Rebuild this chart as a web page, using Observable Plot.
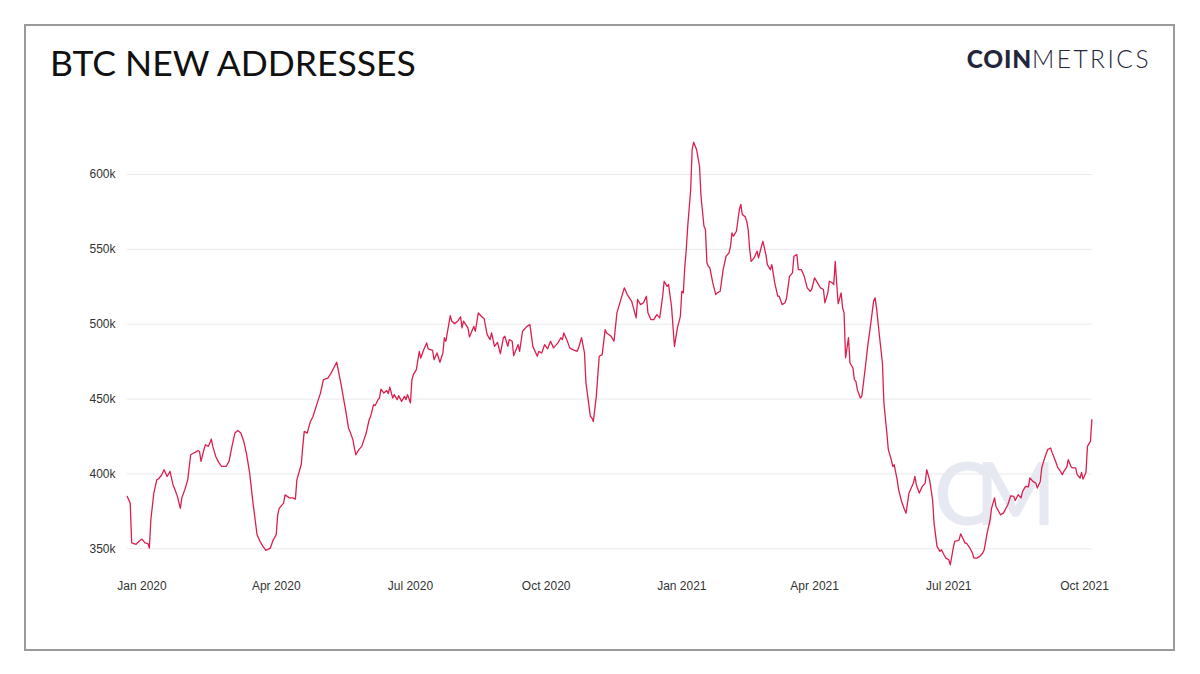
<!DOCTYPE html>
<html>
<head>
<meta charset="utf-8">
<script src="https://cdn.jsdelivr.net/npm/d3@7"></script>
<script src="https://cdn.jsdelivr.net/npm/@observablehq/plot@0.6"></script>
<style>
  body { margin: 0; background: #fff; }
  #wrap { position: relative; width: 1200px; height: 674px; background: #fff; overflow: hidden; }
  .frame { position: absolute; left: 24px; top: 24px; width: 1147px; height: 623px; border: 2px solid #9a9a9a; }
  .title { position: absolute; left: 50px; top: 43px; font-family: Lato, sans-serif; font-size: 35.5px; line-height: 40px; color: #111; white-space: nowrap; }
  .logo { position: absolute; right: 49px; top: 44px; font-family: Lato, sans-serif; font-size: 24.5px; line-height: 30px; color: #23263a; white-space: nowrap; }
  .logo b { font-weight: 900; letter-spacing: 0.8px; }
  .logo span { font-weight: 300; letter-spacing: 2.5px; }
  .wm { position: absolute; left: 934px; top: 440px; font-family: Lato, sans-serif; font-weight: 600; font-size: 86px; line-height: 104px; color: #e6e9f1; letter-spacing: -16px; white-space: nowrap; }
  #chart { position: absolute; left: 0; top: 0; }
</style>
</head>
<body>
<div id="wrap">
  <div class="frame"></div>
  <div class="title">BTC NEW ADDRESSES</div>
  <div class="logo"><b>COIN</b><span>METRICS</span></div>
  <div class="wm">CM</div>
  <div id="chart"></div>
</div>
<script>
// BTC new addresses (thousands)
const dates = [
"2019-12-22","2019-12-24","2019-12-25","2019-12-28","2019-12-30","2020-01-01","2020-01-03","2020-01-05","2020-01-06","2020-01-07",
"2020-01-09","2020-01-11","2020-01-12","2020-01-14","2020-01-16","2020-01-18","2020-01-20","2020-01-22","2020-01-23","2020-01-25",
"2020-01-27","2020-01-28","2020-01-30","2020-02-01","2020-02-03","2020-02-05","2020-02-06","2020-02-08","2020-02-09","2020-02-10",
"2020-02-12","2020-02-13","2020-02-15","2020-02-16","2020-02-17","2020-02-18","2020-02-20","2020-02-22","2020-02-24","2020-02-27",
"2020-02-29","2020-03-02","2020-03-04","2020-03-06","2020-03-08","2020-03-10","2020-03-12","2020-03-14","2020-03-16","2020-03-19",
"2020-03-21","2020-03-23","2020-03-25","2020-03-28","2020-03-30","2020-04-01","2020-04-02","2020-04-03","2020-04-06","2020-04-07",
"2020-04-10","2020-04-12","2020-04-14","2020-04-15","2020-04-18","2020-04-19","2020-04-20","2020-04-22","2020-04-24","2020-04-26",
"2020-04-29","2020-05-01","2020-05-03","2020-05-06","2020-05-08","2020-05-10","2020-05-12","2020-05-13","2020-05-15","2020-05-16",
"2020-05-18","2020-05-20","2020-05-21","2020-05-23","2020-05-24","2020-05-25","2020-05-27","2020-05-29","2020-06-01","2020-06-03",
"2020-06-04","2020-06-06","2020-06-07","2020-06-09","2020-06-10","2020-06-11","2020-06-13","2020-06-15","2020-06-16","2020-06-17",
"2020-06-19","2020-06-20","2020-06-22","2020-06-23","2020-06-25","2020-06-27","2020-06-28","2020-06-29","2020-07-01","2020-07-02",
"2020-07-03","2020-07-05","2020-07-07","2020-07-08","2020-07-10","2020-07-12","2020-07-13","2020-07-16","2020-07-17","2020-07-19",
"2020-07-21","2020-07-23","2020-07-24","2020-07-25","2020-07-28","2020-07-29","2020-07-31","2020-08-02","2020-08-04","2020-08-05",
"2020-08-06","2020-08-09","2020-08-10","2020-08-13","2020-08-14","2020-08-16","2020-08-18","2020-08-20","2020-08-22","2020-08-24",
"2020-08-25","2020-08-27","2020-08-29","2020-08-31","2020-09-02","2020-09-03","2020-09-05","2020-09-06","2020-09-08","2020-09-09",
"2020-09-12","2020-09-13","2020-09-15","2020-09-18","2020-09-20","2020-09-22","2020-09-25","2020-09-26","2020-09-28","2020-09-30",
"2020-10-02","2020-10-04","2020-10-06","2020-10-09","2020-10-11","2020-10-12","2020-10-13","2020-10-15","2020-10-17","2020-10-19",
"2020-10-22","2020-10-23","2020-10-25","2020-10-27","2020-10-28","2020-10-31","2020-11-01","2020-11-02","2020-11-04","2020-11-06",
"2020-11-08","2020-11-10","2020-11-11","2020-11-14","2020-11-16","2020-11-18","2020-11-20","2020-11-23","2020-11-25","2020-11-28",
"2020-12-01","2020-12-02","2020-12-04","2020-12-06","2020-12-08","2020-12-09","2020-12-11","2020-12-13","2020-12-15","2020-12-17",
"2020-12-19","2020-12-20","2020-12-22","2020-12-23","2020-12-25","2020-12-27","2020-12-29","2020-12-31","2021-01-01","2021-01-02",
"2021-01-03","2021-01-04","2021-01-05","2021-01-07","2021-01-08","2021-01-09","2021-01-11","2021-01-13","2021-01-14","2021-01-16",
"2021-01-17","2021-01-18","2021-01-19","2021-01-20","2021-01-22","2021-01-24","2021-01-25","2021-01-27","2021-01-29","2021-01-31",
"2021-02-02","2021-02-03","2021-02-04","2021-02-05","2021-02-07","2021-02-09","2021-02-10","2021-02-11","2021-02-13","2021-02-14",
"2021-02-15","2021-02-16","2021-02-17","2021-02-19","2021-02-21","2021-02-22","2021-02-24","2021-02-25","2021-02-27","2021-02-28",
"2021-03-02","2021-03-03","2021-03-05","2021-03-07","2021-03-08","2021-03-10","2021-03-12","2021-03-13","2021-03-15","2021-03-17",
"2021-03-18","2021-03-20","2021-03-21","2021-03-23","2021-03-25","2021-03-27","2021-03-29","2021-03-30","2021-04-01","2021-04-03",
"2021-04-05","2021-04-07","2021-04-08","2021-04-10","2021-04-11","2021-04-13","2021-04-14","2021-04-15","2021-04-16","2021-04-17",
"2021-04-19","2021-04-20","2021-04-21","2021-04-22","2021-04-24","2021-04-25","2021-04-27","2021-04-28","2021-04-29","2021-04-30",
"2021-05-02","2021-05-03","2021-05-04","2021-05-06","2021-05-07","2021-05-09","2021-05-11","2021-05-12","2021-05-13","2021-05-15",
"2021-05-17","2021-05-18","2021-05-20","2021-05-21","2021-05-23","2021-05-24","2021-05-25","2021-05-27","2021-05-28","2021-05-30",
"2021-06-01","2021-06-02","2021-06-03","2021-06-04","2021-06-05","2021-06-07","2021-06-08","2021-06-09","2021-06-11","2021-06-13",
"2021-06-15","2021-06-16","2021-06-18","2021-06-20","2021-06-21","2021-06-23","2021-06-25","2021-06-26","2021-06-28","2021-06-29",
"2021-07-01","2021-07-02","2021-07-04","2021-07-05","2021-07-07","2021-07-08","2021-07-09","2021-07-11","2021-07-12","2021-07-13",
"2021-07-15","2021-07-17","2021-07-18","2021-07-20","2021-07-22","2021-07-24","2021-07-25","2021-07-27","2021-07-29","2021-07-30",
"2021-08-01","2021-08-02","2021-08-05","2021-08-07","2021-08-10","2021-08-12","2021-08-14","2021-08-15","2021-08-17","2021-08-19",
"2021-08-20","2021-08-22","2021-08-24","2021-08-25","2021-08-27","2021-08-29","2021-08-30","2021-09-01","2021-09-02","2021-09-04",
"2021-09-06","2021-09-08","2021-09-09","2021-09-11","2021-09-13","2021-09-14","2021-09-16","2021-09-17","2021-09-19","2021-09-20",
"2021-09-22","2021-09-23","2021-09-25","2021-09-26","2021-09-28","2021-09-29","2021-09-30","2021-10-02","2021-10-03","2021-10-05",
"2021-10-06"
];
const newAddressesK = [
385,380.5,354,353,355,356.5,354,353.5,350.5,369.4,
387,396,396.6,398.8,402.8,398.3,401.7,392.8,390.5,385,
377,384,389.4,396,412.8,414,414.4,415.7,415,408.4,
416.2,419.5,418.4,420.6,423.3,418.4,411.7,407.7,405,405,
408.4,418.4,427.3,429,427.3,421.7,412.8,400.5,382.8,359.4,
355,351.6,349,350.5,356,359.4,372.7,377,380.5,386,
384,384,383.2,396,406.5,418.4,428.4,427.3,434.5,438.5,
448,454,463,464,467,470.8,474.6,469.7,459.6,454,
443,430.7,428.4,422.9,417.3,412.8,416.2,418.4,427.3,436.2,
438.5,446.3,445.6,449.6,450.7,456.7,454,455.8,453.6,458,
450.7,453,449.6,452.3,448.5,451.8,449.6,453,447.4,463,
466.3,469.7,481.9,477.4,483,487.5,483.5,482.6,476.3,480.8,
474.6,480.8,491,488.6,505.7,502,500.4,502,504.9,497.5,
502,497.5,491.5,498.6,495.3,507.6,505.3,503.6,493,489.7,
494.2,485.2,487.9,480.3,491,492,485.2,489.7,488.6,479,
486.4,481.9,495.3,498.6,499.7,485.2,478.6,481.9,480.8,486.4,
483.6,488.6,484.2,487.5,491,489.7,494.2,489.7,484.2,483,
481.9,484.2,491,480.8,460.8,438.5,437.4,435,451.8,478.6,
479.7,496.4,494.2,492,488.6,507.6,514.3,524.3,519.8,515.3,
504.2,516.5,513.1,514.3,518.7,507.6,503.1,503.1,506.4,504.2,
518.7,528.7,525.3,526.5,512,485.2,497.5,505.3,522,520.9,
538,550,565.4,590,616.8,621.6,616.7,605.5,585.5,565.4,
563.2,541,538.7,537.6,527.6,519.8,520.9,522,536.5,545.4,
547.7,552.1,561,558.8,562.1,576.6,580,573.3,571.7,568.8,
563.2,549.9,542,544.3,548.8,544.3,552.1,555.4,546.5,539.8,
536.5,539.8,527.6,518.7,518.7,513.1,514.3,517.6,532,534.3,
545.4,546.5,536.5,536.5,532,524.3,522,523.2,531,527.6,
524.3,523.2,514.3,520.9,528.7,527.6,526.5,542,527,513.7,
520.9,510.9,507.5,477.5,491,474.1,470.8,463,461.8,456.3,
450.7,451.8,459.6,476.3,485.2,499.7,515.3,517.6,510.9,492,
474.1,447.4,427.3,416.2,409.5,405,406.1,396,389.4,381.6,
376.1,373.8,380.5,387.2,389.4,393.9,398.3,392.8,387.2,391.7,
393.9,402.8,396,382.8,367.2,351.6,348.3,349.4,345.5,343.8,
342.7,339.3,350.5,354.9,355.5,356,360,356,353.8,353.8,
351,347.2,343.8,343.8,344.9,347.2,349.4,360.5,369.4,377.2,
384,378.3,372.7,373.8,379.4,385.4,385,382.3,386.1,384,
388.4,391.7,391.3,397.3,395,393.9,390.6,395,404,410.7,
416.2,417.3,414.4,409.5,404,402.8,399.5,401.7,404.6,409.5,
404.6,404,404,399.5,397.3,401,396.6,401,418.4,421.7,
436.2
];
const yTicks = [350, 400, 450, 500, 550, 600];
const xTickDates = ["2020-01-01","2020-04-01","2020-07-01","2020-10-01","2021-01-01","2021-04-01","2021-07-01","2021-10-01"];

const parse = d3.utcParse("%Y-%m-%d");
const data = dates.map((d, i) => ({date: parse(d), value: newAddressesK[i]}));
const xTicks = xTickDates.map(parse);
const firstDate = data[0].date;
const lastDate = data[data.length - 1].date;

const chart = Plot.plot({
  width: 1200,
  height: 674,
  marginLeft: 127,
  marginRight: 108,
  marginTop: 150,
  marginBottom: 104,
  style: {background: "transparent", fontFamily: "'Liberation Sans', Arial, Helvetica, sans-serif", fontSize: "12px", color: "#333"},
  x: {type: "utc", domain: [xTicks[0], xTicks[xTicks.length - 1]], range: [141.5, 1084]},
  y: {domain: [350, 600], range: [548.3, 174]},
  marks: [
    Plot.ruleY(yTicks, {x1: () => firstDate, x2: () => lastDate, stroke: "#e9e9ec", strokeWidth: 1}),
    Plot.line(data, {x: "date", y: "value", stroke: "#dc1f4e", strokeWidth: 1.3, curve: "linear"}),
    Plot.axisY({ticks: yTicks, tickSize: 0, tickPadding: 12, tickFormat: d => d + "k", fontSize: 12, label: null}),
    Plot.axisX({ticks: xTicks, tickSize: 0, tickPadding: 11, tickFormat: d3.utcFormat("%b %Y"), fontSize: 12, label: null})
  ]
});
document.getElementById("chart").appendChild(chart);
</script>
</body>
</html>
